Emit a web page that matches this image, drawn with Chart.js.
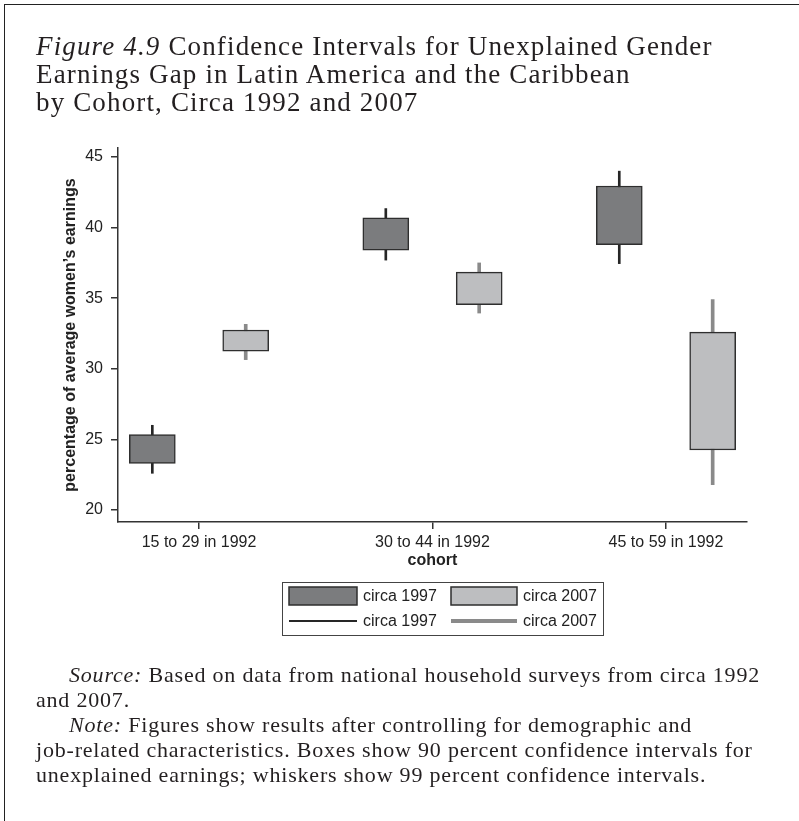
<!DOCTYPE html>
<html>
<head>
<meta charset="utf-8">
<script src="https://cdn.jsdelivr.net/npm/chart.js@4/dist/chart.umd.min.js"></script>
<style>
  html, body { margin: 0; padding: 0; background: #fff; }
  #page { position: relative; width: 799px; height: 821px; overflow: hidden; }
  #frame { position: absolute; left: 4px; top: 4px; width: 820px; height: 840px;
           border-left: 1.5px solid #222; border-top: 1.5px solid #222; }
  #chart { position: absolute; left: 0; top: 0; }
  .serif { font-family: "Liberation Serif", "DejaVu Serif", serif; color: #231f20; }
  #title { position: absolute; left: 36px; top: 32px; font-size: 27px; line-height: 28px;
           letter-spacing: 1.15px; white-space: nowrap; }
  #notes { position: absolute; left: 36px; top: 662px; font-size: 22px; line-height: 25px;
           letter-spacing: 0.8px; white-space: nowrap; }
  .indent { padding-left: 33px; }
</style>
</head>
<body>
<div id="page">
  <div id="frame"></div>
  <canvas id="chart" width="799" height="821"></canvas>
  <div id="title" class="serif"><i>Figure 4.9</i> Confidence Intervals for Unexplained Gender<br>Earnings Gap in Latin America and the Caribbean<br>by Cohort, Circa 1992 and 2007</div>
  <div id="notes" class="serif"><span class="indent"><i>Source:</i> Based on data from national household surveys from circa 1992</span><br>and 2007.<br><span class="indent"><i>Note:</i> Figures show results after controlling for demographic and</span><br>job-related characteristics. Boxes show 90 percent confidence intervals for<br>unexplained earnings; whiskers show 99 percent confidence intervals.</div>
</div>
<script>
// Cohort categories on the x axis
const cohorts = ['15 to 29 in 1992', '30 to 44 in 1992', '45 to 59 in 1992'];
// 90 percent confidence intervals [low, high], per cohort
const box1997 = [[23.3, 25.35], [38.4, 40.7], [38.8, 42.95]];
const box2007 = [[31.25, 32.75], [34.55, 36.85], [24.25, 32.6]];
// 99 percent confidence intervals [low, high], per cohort
const whisker1997 = [[22.6, 26.0], [37.7, 41.35], [37.45, 44.0]];
const whisker2007 = [[30.65, 33.15], [33.95, 37.5], [21.8, 34.9]];
// Tick values on the y axis
const yTicks = [20, 25, 30, 35, 40, 45];

const SHIFT = 0.2; // side offset of each period inside a cohort
const toPoints = (ranges, shift) => ranges.map((r, i) => ({ x: i + 1 + shift, y: r }));

const SANS = '"Liberation Sans", Arial, Helvetica, sans-serif';
const TEXT = '#222';
const AXIS = '#333';

// Legend in a framed box below the axis title, two columns
const boxLegend = {
  id: 'boxLegend',
  afterDraw(chart) {
    const ctx = chart.ctx;
    const ds = chart.data.datasets;
    const area = chart.chartArea;
    const left = 282, top = area.bottom + 60, w = 321, h = 53;
    ctx.save();
    ctx.strokeStyle = '#444';
    ctx.lineWidth = 1;
    ctx.strokeRect(left + 0.5, top + 0.5, w, h);
    ctx.font = '16px ' + SANS;
    ctx.fillStyle = TEXT;
    ctx.textBaseline = 'middle';
    const cols = [left + 7, left + 169];
    const rowBox = top + 14, rowLine = top + 39;
    // box swatches
    [ds[0], ds[1]].forEach((d, i) => {
      const x = cols[i];
      const sw = i === 0 ? 68 : 66;
      ctx.fillStyle = d.backgroundColor;
      ctx.fillRect(x, rowBox - 9, sw, 18);
      ctx.strokeStyle = d.borderColor;
      ctx.lineWidth = 1.5;
      ctx.strokeRect(x, rowBox - 9, sw, 18);
      ctx.fillStyle = TEXT;
      ctx.fillText(d.label, x + sw + 6, rowBox + 1);
    });
    // whisker swatches
    [ds[2], ds[3]].forEach((d, i) => {
      const x = cols[i];
      const sw = i === 0 ? 68 : 66;
      ctx.strokeStyle = d.backgroundColor;
      ctx.lineWidth = i === 0 ? 2 : 4;
      ctx.beginPath();
      ctx.moveTo(x, rowLine);
      ctx.lineTo(x + sw, rowLine);
      ctx.stroke();
      ctx.fillStyle = TEXT;
      ctx.fillText(d.label, x + sw + 6, rowLine + 1);
    });
    ctx.restore();
  }
};

new Chart(document.getElementById('chart'), {
  type: 'bar',
  data: {
    datasets: [
      { label: 'circa 1997', data: toPoints(box1997, -SHIFT), backgroundColor: '#7b7c7e',
        borderColor: '#2e2e2e', borderWidth: 1.5, borderSkipped: false, barThickness: 46, grouped: false, order: 0 },
      { label: 'circa 2007', data: toPoints(box2007, SHIFT), backgroundColor: '#bdbec0',
        borderColor: '#2e2e2e', borderWidth: 1.5, borderSkipped: false, barThickness: 46, grouped: false, order: 0 },
      { label: 'circa 1997', data: toPoints(whisker1997, -SHIFT), backgroundColor: '#262626',
        borderWidth: 0, barThickness: 2, grouped: false, order: 1 },
      { label: 'circa 2007', data: toPoints(whisker2007, SHIFT), backgroundColor: '#8a8a8a',
        borderWidth: 0, barThickness: 3, grouped: false, order: 1 }
    ]
  },
  options: {
    responsive: false,
    animation: false,
    layout: { padding: { left: 0, right: 52, top: 148, bottom: 249 } },
    plugins: { legend: { display: false }, tooltip: { enabled: false } },
    scales: {
      x: {
        type: 'linear',
        offset: false,
        min: 0.653,
        max: 3.347,
        afterBuildTicks: s => { s.ticks = [1, 2, 3].map(v => ({ value: v })); },
        afterFit: s => { s.height = 50; },
        ticks: { callback: v => cohorts[v - 1], autoSkip: false, maxRotation: 0,
                 font: { family: SANS, size: 16 }, color: TEXT, padding: 4 },
        grid: { offset: false, drawOnChartArea: false, drawTicks: true, tickLength: 7, color: AXIS, lineWidth: 1.5 },
        border: { display: true, color: AXIS, width: 1.5 },
        title: { display: true, text: 'cohort', font: { family: SANS, size: 16, weight: 'bold' },
                 color: TEXT, padding: { top: 0, bottom: 1.5 } }
      },
      y: {
        min: 19.15,
        max: 45.64,
        afterBuildTicks: s => { s.ticks = yTicks.map(v => ({ value: v })); },
        afterFit: s => { s.width = 118; },
        ticks: { font: { family: SANS, size: 16 }, color: TEXT, padding: 8 },
        grid: { drawOnChartArea: false, drawTicks: true, tickLength: 7, color: AXIS, lineWidth: 1.5 },
        border: { display: true, color: AXIS, width: 1.5 },
        title: { display: true, text: 'percentage of average women\u2019s earnings',
                 font: { family: SANS, size: 16, weight: 'bold' }, color: TEXT, padding: { top: 61, bottom: 0 } }
      }
    }
  },
  plugins: [boxLegend]
});
</script>
</body>
</html>
